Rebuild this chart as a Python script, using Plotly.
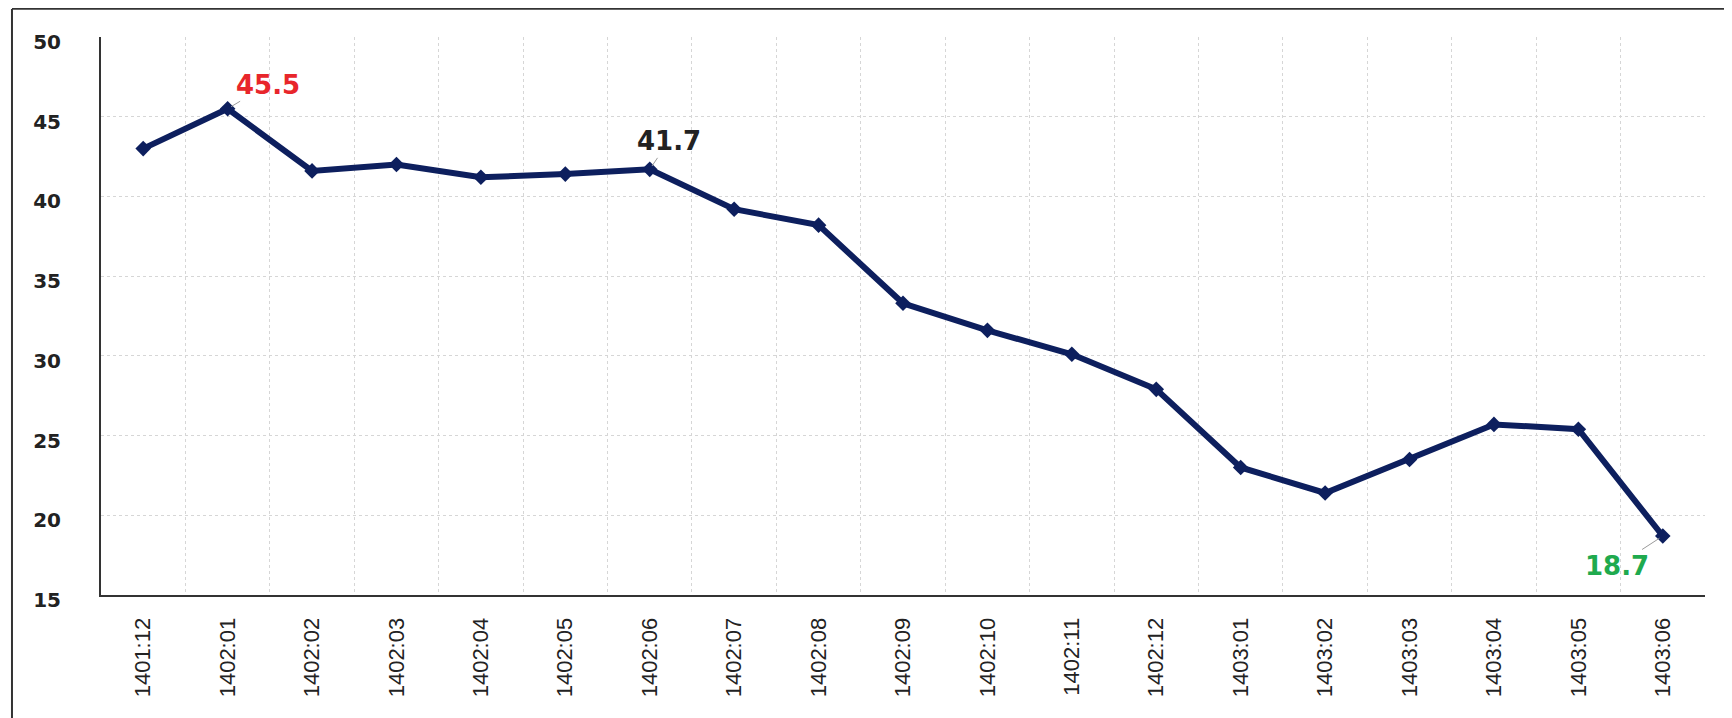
import plotly.graph_objects as go

months = ["1401:12", "1402:01", "1402:02", "1402:03", "1402:04", "1402:05", "1402:06",
          "1402:07", "1402:08", "1402:09", "1402:10", "1402:11", "1402:12", "1403:01",
          "1403:02", "1403:03", "1403:04", "1403:05", "1403:06"]
values = [43.0, 45.5, 41.6, 42.0, 41.2, 41.4, 41.7, 39.2, 38.2, 33.3, 31.6, 30.1, 27.9,
          23.0, 21.4, 23.5, 25.7, 25.4, 18.7]
y_ticks = [15, 20, 25, 30, 35, 40, 45, 50]

fig = go.Figure()
fig.add_trace(go.Scatter(
    x=months, y=values, mode="lines+markers",
    line=dict(color="#0d1f5e", width=6),
    marker=dict(symbol="diamond", size=12, color="#0d1f5e"),
    showlegend=False, hoverinfo="x+y",
))

# highlighted labels: (index, colour, ax, ay)
highlights = [(1, "#e8262b", 40, -24), (6, "#222222", 19, -28), (18, "#1faa4e", -46, 30)]
for idx, col, ax, ay in highlights:
    fig.add_annotation(
        x=months[idx], y=values[idx], text=f"{values[idx]:.1f}",
        showarrow=True, arrowhead=0, arrowwidth=1, arrowcolor="#9a9a9a",
        ax=ax, ay=ay, standoff=4,
        font=dict(family="DejaVu Sans", size=26, color=col, weight="bold"),
    )

# outer frame (left and top edges)
fig.add_shape(type="line", xref="paper", yref="paper", x0=-0.0555, x1=-0.0555, y0=-0.3, y1=1.05,
              line=dict(color="#333333", width=2))
fig.add_shape(type="line", xref="paper", yref="paper", x0=-0.0555, x1=1.05, y0=1.0505, y1=1.0505,
              line=dict(color="#333333", width=2))

fig.update_layout(
    width=1732, height=718,
    margin=dict(l=93, r=35, t=29, b=131),
    paper_bgcolor="white", plot_bgcolor="white",
    xaxis=dict(
        type="category", tickson="boundaries", tickangle=-90,
        showgrid=True, gridcolor="#d6d6d6", griddash="dot", gridwidth=1,
        showline=True, linecolor="#333333", linewidth=2,
        ticks="", ticklabelstandoff=12,
        tickfont=dict(family="Liberation Sans", size=22, color="#222222"),
        range=[-0.5, len(months) - 0.5],
    ),
    yaxis=dict(
        range=[15, 50], tickvals=y_ticks,
        showgrid=True, gridcolor="#d6d6d6", griddash="dot", gridwidth=1,
        showline=True, linecolor="#333333", linewidth=2,
        ticks="", ticklabelstandoff=34, ticklabelshift=5, zeroline=False,
        tickfont=dict(family="DejaVu Sans", size=20, color="#222222", weight="bold"),
    ),
)

fig.write_html("out.html")
